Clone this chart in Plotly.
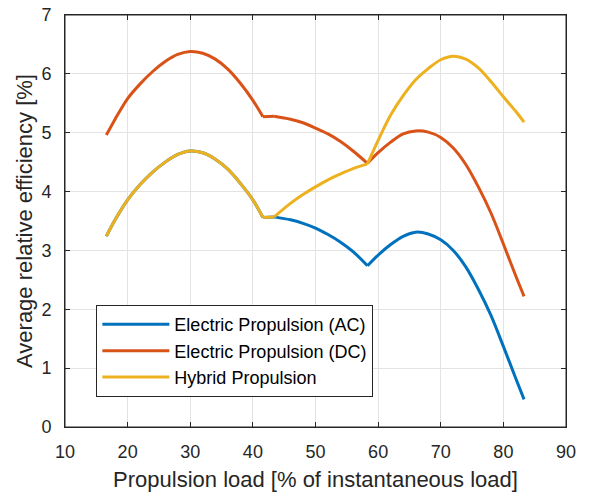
import plotly.graph_objects as go

# Segment A: 16.6 -> 41.6 (AC and Hybrid coincide, DC offset)
xa = [16.6, 18, 20, 22, 24, 26, 28, 30, 32, 34, 36, 38, 40, 41.6]
ac_a = [3.24, 3.52, 3.86, 4.12, 4.33, 4.50, 4.63, 4.69, 4.66, 4.55, 4.38, 4.14, 3.86, 3.56]
dc_a = [4.96, 5.23, 5.58, 5.83, 6.04, 6.21, 6.33, 6.38, 6.35, 6.25, 6.08, 5.84, 5.55, 5.27]
hy_a = [3.24, 3.52, 3.86, 4.12, 4.33, 4.50, 4.63, 4.69, 4.66, 4.55, 4.38, 4.14, 3.86, 3.56]

# Segment B: 41.6 -> 43.4 (flat step)
xb = [41.6, 43.4]
ac_b = [3.56, 3.57]
dc_b = [5.27, 5.28]
hy_b = [3.56, 3.57]

# Segment C: 43.4 -> 58.3
xc = [43.4, 46, 48, 50, 52, 54, 56, 58.3]
ac_c = [3.57, 3.52, 3.46, 3.38, 3.27, 3.14, 2.98, 2.74]
dc_c = [5.28, 5.23, 5.17, 5.08, 4.98, 4.85, 4.69, 4.48]
hy_c = [3.57, 3.80, 3.95, 4.08, 4.20, 4.30, 4.39, 4.47]

# Segment D: 58.3 -> 83.3
xd = [58.3, 60, 62, 64, 66, 68, 70, 72, 74, 76, 78, 80, 82, 83.3]
ac_d = [2.74, 2.92, 3.10, 3.24, 3.31, 3.28, 3.18, 3.00, 2.72, 2.34, 1.90, 1.37, 0.82, 0.47]
dc_d = [4.48, 4.66, 4.84, 4.98, 5.03, 5.01, 4.92, 4.74, 4.46, 4.08, 3.64, 3.11, 2.56, 2.22]
hy_d = [4.47, 4.87, 5.30, 5.63, 5.90, 6.09, 6.24, 6.30, 6.25, 6.10, 5.87, 5.61, 5.36, 5.18]

x_range = [10, 90]
y_range = [0, 7]

names = ["Electric Propulsion (AC)", "Electric Propulsion (DC)", "Hybrid Propulsion"]
colors = ["#0072BD", "#D95319", "#EDB120"]
series = [
    [ac_a, ac_b, ac_c, ac_d],
    [dc_a, dc_b, dc_c, dc_d],
    [hy_a, hy_b, hy_c, hy_d],
]
xsegs = [xa, xb, xc, xd]

FONT = "Liberation Sans, Arial, Helvetica"
AXC = "#262626"

fig = go.Figure()
for name, segs, c in zip(names, series, colors):
    for i, (xs, ys) in enumerate(zip(xsegs, segs)):
        fig.add_trace(go.Scatter(x=xs, y=ys, mode="lines", name=name,
                                 legendgroup=name, showlegend=(i == 0),
                                 line=dict(color=c, width=3, shape="spline", smoothing=0.9)))

# invisible carrier trace so the top/right frame axes get drawn
fig.add_trace(go.Scatter(x=xd, y=hy_d, mode="lines", xaxis="x2", yaxis="y2",
                         opacity=0, showlegend=False, hoverinfo="skip",
                         line=dict(width=0)))

axcommon = dict(showgrid=True, gridcolor="#e3e3e3", gridwidth=1,
                showline=True, linecolor=AXC, linewidth=1,
                ticks="inside", ticklen=5, tickcolor=AXC,
                tickfont=dict(family=FONT, size=18, color=AXC),
                ticklabeloverflow="allow",
                zeroline=False, automargin=False)

fig.update_layout(
    xaxis=dict(range=x_range, dtick=10, tick0=10, ticklabelstandoff=8,
               title=dict(text="Propulsion load [% of instantaneous load]",
                          font=dict(family=FONT, size=22, color=AXC), standoff=11),
               **axcommon),
    yaxis=dict(range=y_range, dtick=1, tick0=0, ticklabelstandoff=9,
               title=dict(text="Average relative efficiency [%]",
                          font=dict(family=FONT, size=22, color=AXC), standoff=2),
               **axcommon),
    xaxis2=dict(overlaying="x", anchor="y", side="top", range=x_range, dtick=10, tick0=10,
                showgrid=False, showline=True, linecolor=AXC, linewidth=1,
                ticks="inside", ticklen=5, tickcolor=AXC, showticklabels=False,
                zeroline=False, automargin=False),
    yaxis2=dict(overlaying="y", anchor="x", side="right", range=y_range, dtick=1, tick0=0,
                showgrid=False, showline=True, linecolor=AXC, linewidth=1,
                ticks="inside", ticklen=5, tickcolor=AXC, showticklabels=False,
                zeroline=False, automargin=False),
    shapes=[dict(type="rect", xref="paper", yref="paper", x0=0, y0=0, x1=1, y1=1,
                 line=dict(color=AXC, width=1), fillcolor="rgba(0,0,0,0)", layer="above")],
    width=604, height=496,
    margin=dict(l=65, r=38, t=15, b=69),
    plot_bgcolor="white", paper_bgcolor="white",
    showlegend=True,
    legend=dict(x=0.0626, y=0.296, xanchor="left", yanchor="top",
                bgcolor="white", bordercolor=AXC, borderwidth=1,
                font=dict(family=FONT, size=18, color="#000000"),
                itemwidth=67, tracegroupgap=0),
)

fig.write_html("out.html", config={"displayModeBar": False},
               post_script="document.body.style.margin='0';document.body.style.overflow='hidden';")
